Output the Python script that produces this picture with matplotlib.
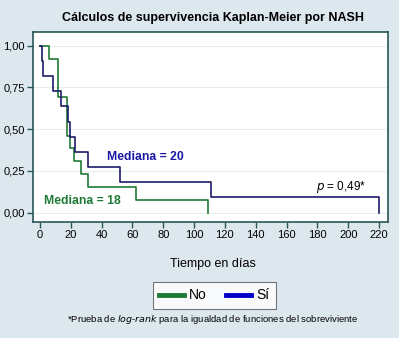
import matplotlib
matplotlib.use('Agg')
import matplotlib.pyplot as plt
from matplotlib.lines import Line2D

plt.rcParams['font.family'] = ['Liberation Sans', 'DejaVu Sans']

# Kaplan-Meier steps (time in days, survival)
no_times = [0, 6, 12, 17.5, 19.5, 22.3, 26.5, 31.5, 62, 109]
no_surv = [1.0, 0.923, 0.692, 0.462, 0.385, 0.308, 0.231, 0.154, 0.077, 0.0]

si_times = [0, 1.5, 2.2, 8.7, 13.5, 18, 19.2, 22.5, 31.5, 52, 111, 220]
si_surv = [1.0, 0.909, 0.818, 0.727, 0.636, 0.545, 0.455, 0.364, 0.273, 0.182, 0.091, 0.0]

x_ticks = list(range(0, 221, 20))
y_ticks = [0, 0.25, 0.5, 0.75, 1.0]
y_labels = ['0,00', '0,25', '0,50', '0,75', '1,00']

bg = '#dde8ee'
green = '#1f7a35'
blue_line = '#1c1c6a'
blue_txt = '#1a1aa6'
frame = '#2a5656'

fig = plt.figure(figsize=(3.99, 3.38), dpi=100, facecolor=bg)
ax = fig.add_axes([0.0827, 0.3432, 0.8897, 0.5621])
ax.set_facecolor('white')

ax.step(no_times, no_surv, where='post', color=green, lw=1.2)
ax.step(si_times, si_surv, where='post', color=blue_line, lw=1.2)

ax.set_xlim(-4.5, 225.8)
ax.set_ylim(-0.056, 1.082)
ax.set_xticks(x_ticks)
ax.set_xticklabels([str(t) for t in x_ticks], fontsize=8)
ax.set_yticks(y_ticks)
ax.set_yticklabels(y_labels, fontsize=8)
ax.tick_params(direction='out', length=4, width=1, color=frame, pad=2)
for s in ax.spines.values():
    s.set_color(frame)
    s.set_linewidth(1.2)
ax.grid(axis='y', color='#e8eef0', lw=0.8)
ax.set_axisbelow(True)

ax.text(43.5, 0.335, 'Mediana = 20', color=blue_txt, fontsize=8.8,
        fontweight='bold', va='center')
ax.text(2.6, 0.072, 'Mediana = 18', color=green, fontsize=8.8,
        fontweight='bold', va='center')
ax.text(212, 0.156, '$p$ = 0,49*', fontsize=8.5, ha='right', va='center')

fig.text(0.534, 0.948, 'Cálculos de supervivencia Kaplan-Meier por NASH',
         ha='center', va='center', fontsize=9, fontweight='bold')
fig.text(0.534, 0.22, 'Tiempo en días', ha='center', va='center', fontsize=9)

handles = [Line2D([], [], color=green, lw=3.5), Line2D([], [], color='#0000c8', lw=3.5)]
leg = fig.legend(handles, ['No', 'Sí'], loc='center', bbox_to_anchor=(0.537, 0.126),
                 ncol=2, fontsize=10, frameon=True, fancybox=False,
                 handlelength=1.8, handletextpad=0.35, columnspacing=1.4,
                 borderpad=0.45, borderaxespad=0)
leg.get_frame().set_edgecolor('#555555')
leg.get_frame().set_linewidth(0.8)

fig.text(0.534, 0.055, '*Prueba de $\\it{log}$-$\\it{rank}$ para la igualdad de funciones del sobreviviente',
         ha='center', va='center', fontsize=6.8)

fig.savefig('out.png', dpi=100, facecolor=bg)
